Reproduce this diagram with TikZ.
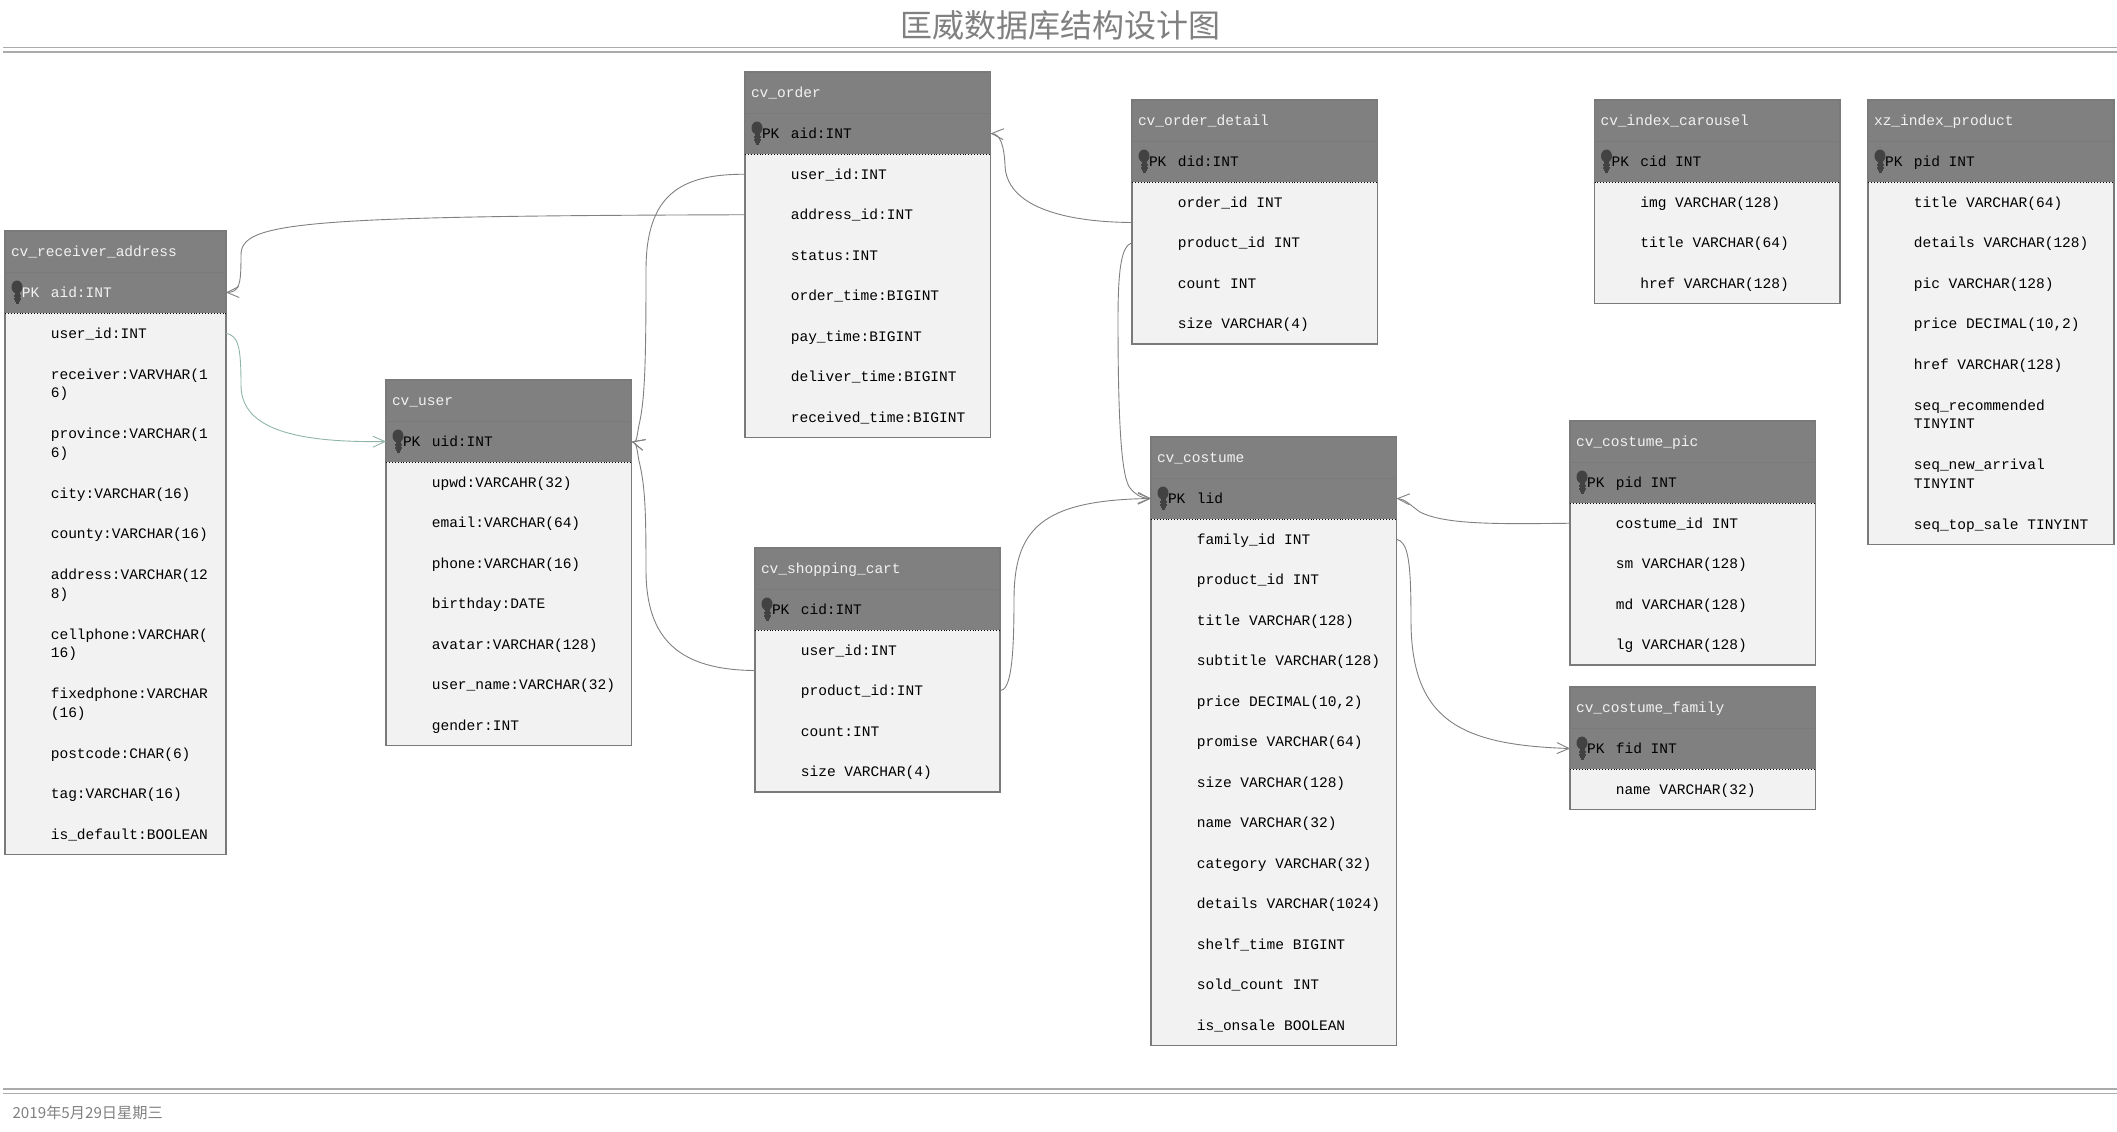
\documentclass[tikz,border=0pt]{standalone}
\usepackage{fontspec}
\usetikzlibrary{positioning}
\usetikzlibrary{arrows.meta}
\newfontfamily\ermono{Liberation Mono}
\newfontfamily\ercjk{Noto Sans CJK SC}
\newcommand{\ertabfont}{\ermono\fontsize{14.55}{18.5}\selectfont}
\definecolor{erhead}{HTML}{808080}
\definecolor{erbody}{HTML}{F2F2F2}
\definecolor{eredge}{HTML}{7A7A7A}
\definecolor{ertext}{HTML}{F2F2F2}
\definecolor{erline}{HTML}{808080}
\definecolor{ergreen}{HTML}{8FB5AB}
\definecolor{errule}{HTML}{ABABAB}
\tikzset{
erbase/.style={
  rectangle,
  inner sep=0pt,
  outer sep=0pt,
  anchor=north,
  font=\ertabfont
  },
erheader/.style={
  erbase,
  fill=erhead,
  minimum height=41pt,
  text=ertext
  },
errow/.style={
  erbase,
  fill=erbody,
  text=black
  },
erframe/.style={draw=eredge,line width=1.2pt},
erlink/.style={draw=erline,line width=0.9pt,->,>={Straight Barb[length=12pt,width=11pt]}},
erkey/.pic={
  \fill[black!74] (0,-5.5) ellipse (5.5 and 6.5);
  \fill[black!74] (-2.5,-2) rectangle (2.5,9);
  \fill[black!74] (-3.5,2) rectangle (3.5,4);
  \fill[black!74] (-3.5,5.5) rectangle (3.5,7.5);
  \fill[black!74] (-1.5,9) rectangle (1.5,11);
  }
}
% text sits a little low in its row, spaces a full cell wide
\newsavebox{\erbox}
\newcommand{\erdown}[1]{\sbox{\erbox}{\spaceskip 8.73pt\relax #1}\rule{0pt}{\dimexpr\ht\erbox+2.6pt\relax}\usebox{\erbox}}
% [pk colour]{id}{x}{y}{width}{title}{pk field}{rows}
\newcommand{\ertable}[8][black]{
  \node[erheader,anchor=north west,text width=#5pt] (#2head) at (#3,#4) {\hspace*{6pt}\erdown{\strut #6}};
  \node[erheader,text width=#5pt,below=0pt of #2head] (#2pk) {\hspace*{17pt}\erdown{\textcolor{#1}{\makebox[28.8pt][l]{PK}#7\strut}}};
  \foreach \rowid/\rowh/\rowtxt [remember=\rowid as \rowprev (initially pk)] in {#8} {
    \node[errow,text width=#5pt,minimum height=\rowh pt,alias=#2end,below=0pt of #2\rowprev] (#2\rowid)
      {\hspace*{45.8pt}\erdown{\begin{tabular}[c]{@{}l@{}}\rowtxt\end{tabular}}};
  }
  \draw[erframe] (#2head.north west) rectangle (#2end.south east);
  \draw[eredge,line width=0.8pt] (#2head.south west) -- (#2head.south east);
  \draw[black,line width=0.9pt,dotted] (#2pk.south west) -- (#2pk.south east);
  \pic at ([xshift=12pt]#2pk.west) {erkey};
}
\begin{document}
\begin{tikzpicture}[x=1pt,y=-1pt]
    \useasboundingbox (0,0) rectangle (2117,1132);
    \node[text=erhead,font=\ercjk\fontsize{32pt}{36pt}\selectfont] (title) at (1060,25) {匡威数据库结构设计图};
    \node[text=erhead,anchor=west,font=\ercjk\fontsize{15.2pt}{20pt}\selectfont] (date) at (9,1113) {2019年5月29日星期三};
    % double rules
    \draw[errule,line width=1pt] (3,48) -- (2117,48);
    \draw[errule,line width=2pt] (3,52) -- (2117,52);
    \draw[errule,line width=2pt] (3,1089) -- (2117,1089);
    \draw[errule,line width=1pt] (3,1093) -- (2117,1093);

    \ertable[ertext]{addr}{5}{231}{221}{cv\_receiver\_address}{aid:INT}{
      userid/40.5/user\_id:INT,
      receiver/59.7/receiver:VARVHAR(1\\6),
      province/59.7/province:VARCHAR(1\\6),
      city/40.5/city:VARCHAR(16),
      county/40.5/county:VARCHAR(16),
      address/59.7/address:VARCHAR(12\\8),
      cell/59.7/cellphone:VARCHAR(\\16),
      fixed/59.7/fixedphone:VARCHAR\\(16),
      post/40.5/postcode:CHAR(6),
      tag/40.5/tag:VARCHAR(16),
      def/40.5/is\_default:BOOLEAN}
    \ertable{user}{386}{380}{245.5}{cv\_user}{uid:INT}{
      upwd/40.5/upwd:VARCAHR(32),
      email/40.5/email:VARCHAR(64),
      phone/40.5/phone:VARCHAR(16),
      birth/40.5/birthday:DATE,
      avatar/40.5/avatar:VARCHAR(128),
      name/40.5/user\_name:VARCHAR(32),
      gender/40.5/gender:INT}
    \ertable{order}{745}{72}{245.5}{cv\_order}{aid:INT}{
      userid/40.5/user\_id:INT,
      addrid/40.5/address\_id:INT,
      status/40.5/status:INT,
      otime/40.5/order\_time:BIGINT,
      ptime/40.5/pay\_time:BIGINT,
      dtime/40.5/deliver\_time:BIGINT,
      rtime/40.5/received\_time:BIGINT}
    \ertable{detail}{1132}{100}{245.5}{cv\_order\_detail}{did:INT}{
      orderid/40.5/order\_id INT,
      prodid/40.5/product\_id INT,
      count/40.5/count INT,
      size/40.5/size VARCHAR(4)}
    \ertable{cart}{755}{548}{245}{cv\_shopping\_cart}{cid:INT}{
      userid/40.5/user\_id:INT,
      prodid/40.5/product\_id:INT,
      count/40.5/count:INT,
      size/40.5/size VARCHAR(4)}
    \ertable{costume}{1151}{437}{245.5}{cv\_costume}{lid}{
      famid/40.5/family\_id INT,
      prodid/40.5/product\_id INT,
      title/40.5/title VARCHAR(128),
      sub/40.5/subtitle VARCHAR(128),
      price/40.5/{price DECIMAL(10,2)},
      promise/40.5/promise VARCHAR(64),
      size/40.5/size VARCHAR(128),
      name/40.5/name VARCHAR(32),
      cat/40.5/category VARCHAR(32),
      details/40.5/details VARCHAR(1024),
      shelf/40.5/shelf\_time BIGINT,
      sold/40.5/sold\_count INT,
      onsale/40.5/is\_onsale BOOLEAN}
    \ertable{pic}{1570}{421}{245.5}{cv\_costume\_pic}{pid INT}{
      cosid/40.5/costume\_id INT,
      sm/40.5/sm VARCHAR(128),
      md/40.5/md VARCHAR(128),
      lg/40.5/lg VARCHAR(128)}
    \ertable{family}{1570}{687}{245.5}{cv\_costume\_family}{fid INT}{
      name/40.5/name VARCHAR(32)}
    \ertable{carousel}{1594.5}{100}{245.5}{cv\_index\_carousel}{cid INT}{
      img/40.5/img VARCHAR(128),
      title/40.5/title VARCHAR(64),
      href/40.5/href VARCHAR(128)}
    \ertable{product}{1868}{100}{246}{xz\_index\_product}{pid INT}{
      title/40.5/title VARCHAR(64),
      details/40.5/details VARCHAR(128),
      pic/40.5/pic VARCHAR(128),
      price/40.5/{price DECIMAL(10,2)},
      href/40.5/href VARCHAR(128),
      rec/59.7/seq\_recommended\\TINYINT,
      arrival/59.7/seq\_new\_arrival\\TINYINT,
      top/40.5/seq\_top\_sale TINYINT}

    \draw[erlink] (orderaddrid.west) .. controls (300,216) and (241,222) .. (241,255) .. controls (241,283) and (240,292) .. (addrpk.east);
    \draw[erlink,draw=ergreen] (addruserid.east) .. controls (238,336) and (241,345) .. (241,385) .. controls (241,425) and (285,443) .. (userpk.west);
    \draw[erlink] (orderuserid.west) .. controls (680,174) and (646,195) .. (646,270) .. controls (646,360) and (645,400) .. (639,425) .. controls (637,435) and (637,443) .. (userpk.east);
    \draw[erlink] (cartuserid.south west) .. controls (680,670) and (646,640) .. (646,570) .. controls (646,510) and (645,485) .. (639,461) .. controls (637,451) and (637,443) .. (userpk.east);
    \draw[erlink] (detailorderid.south west) .. controls (1060,222) and (1006,205) .. (1005,165) .. controls (1004,145) and (1000,134) .. (orderpk.east);
    \draw[erlink] (detailprodid.west) .. controls (1122,246) and (1118,265) .. (1118,320) .. controls (1118,430) and (1122,478) .. (1130,488) .. controls (1135,494) and (1140,498) .. (costumepk.west);
    \draw[erlink] (cartprodid.east) .. controls (1010,690) and (1014,665) .. (1014,600) .. controls (1014,530) and (1040,500) .. (costumepk.west);
    \draw[erlink] (piccosid.west) .. controls (1500,524) and (1445,525) .. (1420,512) .. controls (1410,505) and (1405,499) .. (costumepk.east);
    \draw[erlink] (costumefamid.east) .. controls (1408,542) and (1411,560) .. (1411,620) .. controls (1411,720) and (1460,745) .. (familypk.west);
\end{tikzpicture}
\end{document}
